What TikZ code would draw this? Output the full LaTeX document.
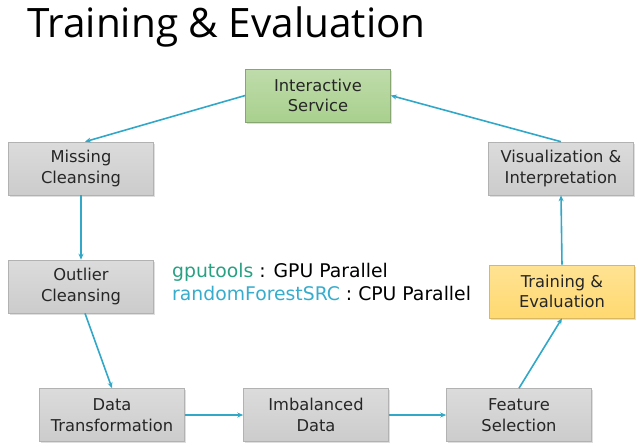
\documentclass[tikz,border=0pt]{standalone}
\usepackage{fontspec}
\setmainfont{DejaVu Sans}
\newfontfamily\titlefont{Open Sans}
\usetikzlibrary{arrows.meta,shadows}
\definecolor{arrowc}{RGB}{49,168,200}
\definecolor{greenbox}{RGB}{169,208,142}
\definecolor{goldbox}{RGB}{255,217,112}
\definecolor{graybox}{RGB}{204,204,204}
\definecolor{gputc}{RGB}{40,160,130}
\definecolor{rfc}{RGB}{55,172,205}
\tikzset{
  box/.style={draw=black!30, line width=0.6pt, top color=graybox!70!white, bottom color=graybox, minimum width=145pt, minimum height=53pt,
    align=center, font=\fontsize{16.3}{20.5}\selectfont, text=black!85, inner sep=2pt,
    drop shadow={shadow xshift=1.5pt, shadow yshift=-1.5pt, opacity=0.25}},
  conn/.style={draw=arrowc, line width=1.6pt, -{Stealth[length=6pt,width=5pt]}}
}
\begin{document}
\begin{tikzpicture}[x=1pt,y=-1pt]
\useasboundingbox (0,0) rectangle (640,447);
\node[anchor=base west, font=\titlefont\fontsize{40.5}{42}\selectfont, inner sep=0] (title) at (27,37) {Training \& Evaluation};
\node[box, top color=greenbox!75!white, bottom color=greenbox, draw=greenbox!80!black] (inter) at (318,95.5) {Interactive\\Service};
\node[box] (miss) at (81,168.5) {Missing\\Cleansing};
\node[box] (outl) at (81,286.5) {Outlier\\Cleansing};
\node[box] (dtra) at (112,415) {Data\\Transformation};
\node[box] (imba) at (316,415) {Imbalanced\\Data};
\node[box] (feat) at (519,415) {Feature\\Selection};
\node[box, top color=goldbox!75!white, bottom color=goldbox, draw=goldbox!85!black] (train) at (562,291.5) {Training \&\\Evaluation};
\node[box] (visu) at (561,168.5) {Visualization \&\\Interpretation};
\node[anchor=west, align=left, font=\fontsize{18.8}{23}\selectfont, inner sep=0] (tools) at (172,281.5)
  {\textcolor{gputc}{gputools} : GPU Parallel\\\textcolor{rfc}{randomForestSRC} : CPU Parallel};
\draw[conn] (inter.west) -- ([xshift=4pt]miss.north);
\draw[conn] (visu.north) -- (inter.east);
\draw[conn] (miss.south) -- (outl.north);
\draw[conn] ([xshift=4pt]outl.south) -- (dtra.north);
\draw[conn] (dtra.east) -- (imba.west);
\draw[conn] (imba.east) -- (feat.west);
\draw[conn] (feat.north) -- (train.south);
\draw[conn] (train.north) -- (visu.south);
\end{tikzpicture}
\end{document}
